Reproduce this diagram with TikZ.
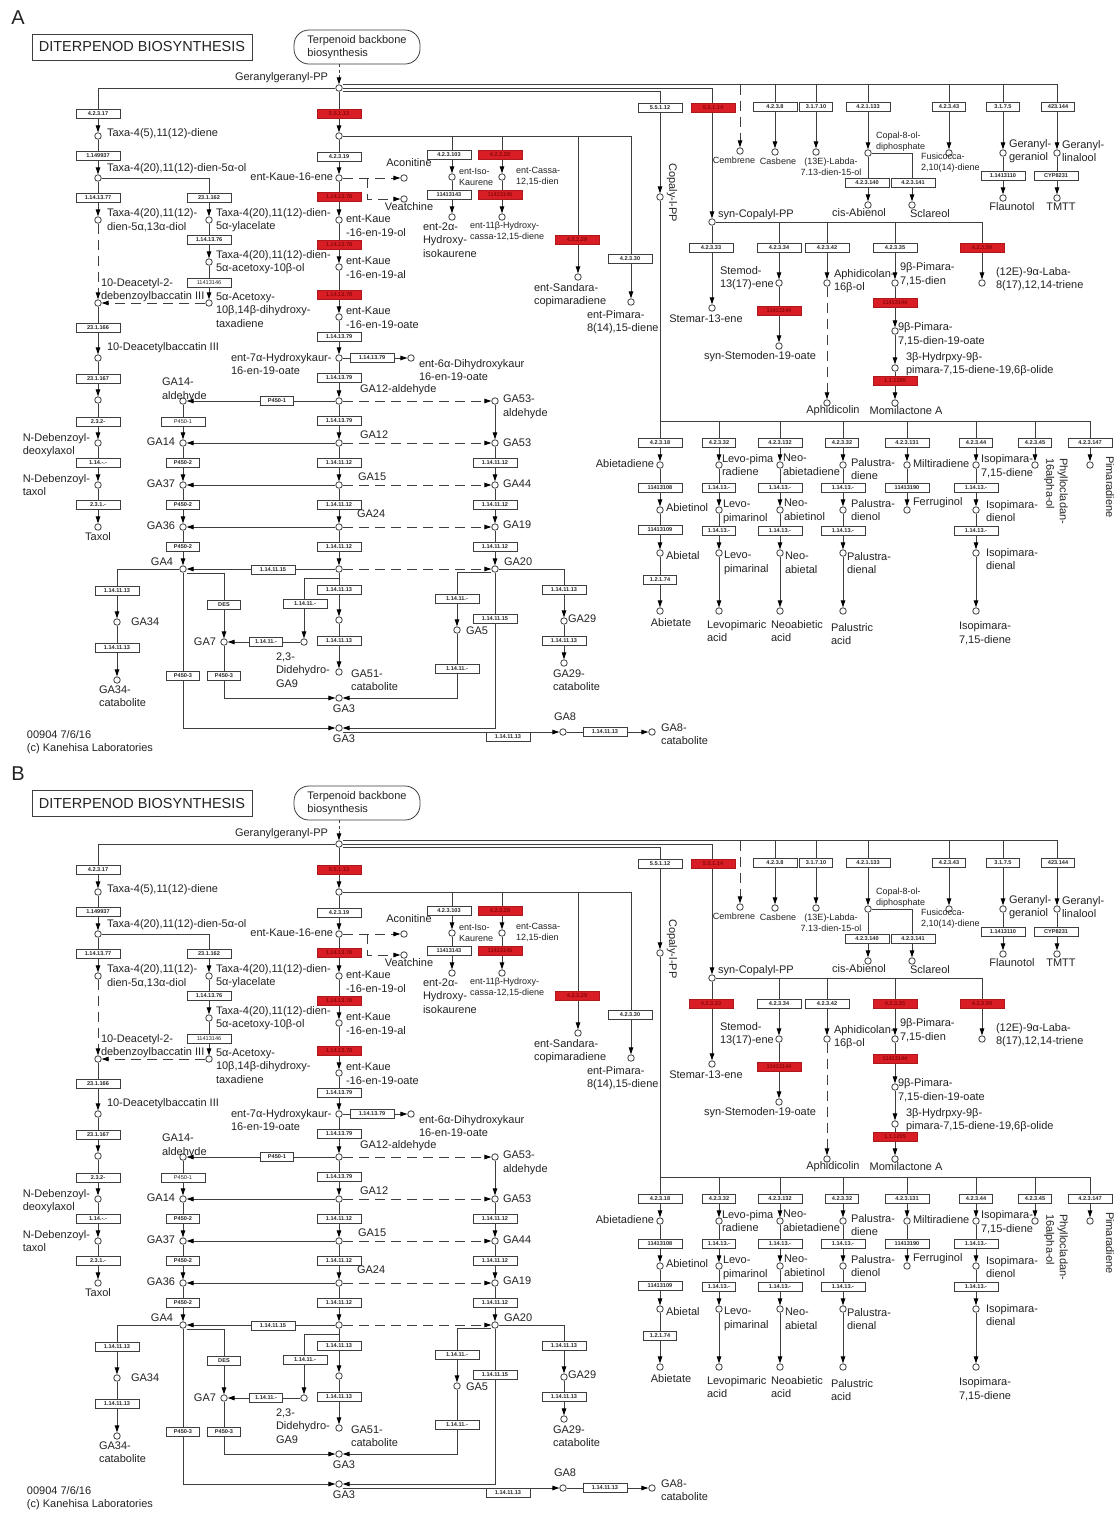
\documentclass[tikz,border=0pt]{standalone}
\usepackage{fontspec}
\setmainfont{Liberation Sans}
\usetikzlibrary{arrows.meta}
\definecolor{linec}{RGB}{62,62,62}
\definecolor{txtc}{RGB}{35,35,35}
\definecolor{keggred}{RGB}{216,30,36}
\definecolor{keggtxt}{RGB}{140,8,12}

% one map panel: #1 letter, #2 style of 4.2.3.33, #3 style of 4.2.3.35
\newcommand{\dtpanel}[3]{%
    % Letter, title and map link
    \node[font=\fontsize{20}{22}\selectfont, text=txtc] (tag) at (18,18) {#1};
    \node[draw, line width=0.8pt, minimum width=220pt, minimum height=26pt, inner sep=0pt, font=\fontsize{14.5}{16}\selectfont, text=txtc] (title) at (142,47) {DITERPENOD BIOSYNTHESIS};
    \node[lbl, draw, line width=0.8pt, rounded corners=15pt, minimum width=126pt, minimum height=34pt] (tbb) at (357,47) {Terpenoid backbone\\biosynthesis};

    % Compounds
    \node[cpd] (ggpp) at (339,88) {};
    \node[cpd] (ecp) at (339,136) {};
    \node[cpd] (ekn) at (339,178) {};
    \node[cpd] (acon) at (404,178) {};
    \node[cpd] (veat) at (404,199) {};
    \node[cpd] (ek1) at (339,220) {};
    \node[cpd] (ek2) at (339,267) {};
    \node[cpd] (ek3) at (339,317) {};
    \node[cpd] (ek4) at (339,358) {};
    \node[cpd] (ek5) at (411,358) {};
    \node[cpd] (ga12a) at (339,401) {};
    \node[cpd] (ga12) at (339,443) {};
    \node[cpd] (ga15) at (339,485) {};
    \node[cpd] (ga24) at (339,527) {};
    \node[cpd] (ga9) at (339,569) {};
    \node[cpd] (ga51) at (339,620) {};
    \node[cpd] (ga51c) at (339,672) {};
    \node[cpd] (ga14a) at (183,401) {};
    \node[cpd] (ga14) at (183,443) {};
    \node[cpd] (ga37) at (183,485) {};
    \node[cpd] (ga36) at (183,527) {};
    \node[cpd] (ga4) at (183,569) {};
    \node[cpd] (ga34) at (117,622) {};
    \node[cpd] (ga34c) at (117,680) {};
    \node[cpd] (ga7) at (224,642) {};
    \node[cpd] (ddga9) at (304,642) {};
    \node[cpd] (ga53a) at (495,401) {};
    \node[cpd] (ga53) at (495,443) {};
    \node[cpd] (ga44) at (495,485) {};
    \node[cpd] (ga19) at (495,527) {};
    \node[cpd] (ga20) at (495,569) {};
    \node[cpd] (ga5) at (457,630) {};
    \node[cpd] (ga29) at (564,621) {};
    \node[cpd] (ga29c) at (564,663) {};
    \node[cpd] (ga3a) at (339,698) {};
    \node[cpd] (ga3b) at (339,728) {};
    \node[cpd] (ga8) at (563,732) {};
    \node[cpd] (ga8c) at (652,732) {};
    \node[cpd] (txa) at (98,136) {};
    \node[cpd] (txb) at (98,178) {};
    \node[cpd] (txc) at (98,220) {};
    \node[cpd] (dab) at (98,303) {};
    \node[cpd] (dbc) at (98,358) {};
    \node[cpd] (txd) at (98,400) {};
    \node[cpd] (ndd) at (98,443) {};
    \node[cpd] (ndt) at (98,485) {};
    \node[cpd] (taxol) at (98,527) {};
    \node[cpd] (tye) at (209,220) {};
    \node[cpd] (tyf) at (209,262) {};
    \node[cpd] (tyg) at (209,303) {};
    \node[cpd] (eik) at (452,177) {};
    \node[cpd] (ehk) at (452,217) {};
    \node[cpd] (ecs) at (502,177) {};
    \node[cpd] (ehc) at (502,217) {};
    \node[cpd] (esc) at (578,277) {};
    \node[cpd] (epm) at (631,302) {};
    \node[cpd] (cpp) at (660,197) {};
    \node[cpd] (scp) at (712,222) {};
    \node[cpd] (stm) at (712,308) {};
    \node[cpd] (std) at (779,283) {};
    \node[cpd] (ssd) at (779,346) {};
    \node[cpd] (aph) at (827,283) {};
    \node[cpd] (aphc) at (827,403) {};
    \node[cpd] (pim) at (895,283) {};
    \node[cpd] (pimo) at (895,331) {};
    \node[cpd] (hpo) at (895,368) {};
    \node[cpd] (mom) at (895,403) {};
    \node[cpd] (lab) at (982,283) {};
    \node[cpd] (cemb) at (740,151) {};
    \node[cpd] (casb) at (775,152) {};
    \node[cpd] (labd) at (816,152) {};
    \node[cpd] (cop8) at (868,153) {};
    \node[cpd] (cisab) at (868,205) {};
    \node[cpd] (scl) at (912,205) {};
    \node[cpd] (fus) at (949,153) {};
    \node[cpd] (ggol) at (1003,153) {};
    \node[cpd] (glin) at (1057,153) {};
    \node[cpd] (flau) at (1003,198) {};
    \node[cpd] (tmtt) at (1057,198) {};
    \node[cpd] (abd) at (660,465) {};
    \node[cpd] (abo) at (660,510) {};
    \node[cpd] (abl) at (660,553) {};
    \node[cpd] (abt) at (660,611) {};
    \node[cpd] (lvd) at (719,465) {};
    \node[cpd] (lvo) at (719,510) {};
    \node[cpd] (lvl) at (719,553) {};
    \node[cpd] (lva) at (719,611) {};
    \node[cpd] (ned) at (780,465) {};
    \node[cpd] (neo) at (780,510) {};
    \node[cpd] (nel) at (780,553) {};
    \node[cpd] (nea) at (780,611) {};
    \node[cpd] (pad) at (843,465) {};
    \node[cpd] (pao) at (843,510) {};
    \node[cpd] (pal) at (843,553) {};
    \node[cpd] (paa) at (843,611) {};
    \node[cpd] (mil) at (907,465) {};
    \node[cpd] (fer) at (907,510) {};
    \node[cpd] (isd) at (976,465) {};
    \node[cpd] (iso) at (976,510) {};
    \node[cpd] (isl) at (976,553) {};
    \node[cpd] (isa) at (976,611) {};
    \node[cpd] (phy) at (1035,465) {};
    \node[cpd] (pmd) at (1090,465) {};
    \coordinate (trail) at (345,84.5);
    \coordinate (brail) at (660,421);
    \coordinate (vbr) at (367,178);

    % Connectors
    \draw[arr, dash pattern=on 3pt off 2.5pt] (tbb.south -| ggpp) -- (ggpp);
    \draw[arr] (ggpp) -| (txa);
    \draw[arr] (ggpp.east) ++(0,-3.5) -| (glin);
    \draw[arr] (ggpp.east) -| (scp);
    \draw[arr] (ggpp.east) ++(0,3.5) -| (cpp);
    \draw[arr, dsh] (trail -| cemb) -- (cemb);
    \draw[arr] (trail -| casb) -- (casb);
    \draw[arr] (trail -| labd) -- (labd);
    \draw[arr] (trail -| cop8) -- (cop8);
    \draw[arr] (trail -| fus) -- (fus);
    \draw[arr] (trail -| ggol) -- (ggol);
    \draw[arr] (cop8) -- (cisab);
    \draw[arr] (cop8) -| (scl);
    \draw[arr] (ggol) -- (flau);
    \draw[arr] (glin) -- (tmtt);
    % main column
    \draw[arr] (ggpp) -- (ecp);
    \draw[arr] (ecp) -- (ekn);
    \draw[arr] (ekn) -- (ek1);
    \draw[arr] (ek1) -- (ek2);
    \draw[arr] (ek2) -- (ek3);
    \draw[arr] (ek3) -- (ek4);
    \draw[arr] (ek4) -- (ga12a);
    \draw[arr] (ga12a) -- (ga12);
    \draw[arr] (ga12) -- (ga15);
    \draw[arr] (ga15) -- (ga24);
    \draw[arr] (ga24) -- (ga9);
    \draw[arr] (ga9) -- (ga51);
    \draw[arr] (ga51) -- (ga51c);
    \draw[arr, dsh] (ekn) -- (acon);
    \draw[arr, dsh] (vbr) |- (veat);
    \draw[arr] (ek4) -- (ek5);
    \draw[arr] (ecp) -| (epm);
    \draw[arr] (ecp -| eik) -- (eik);
    \draw[arr] (ecp -| ecs) -- (ecs);
    \draw[arr] (ecp -| esc) -- (esc);
    \draw[arr] (eik) -- (ehk);
    \draw[arr] (ecs) -- (ehc);
    % gibberellins
    \draw[arr] (ga12a) -- (ga14a);
    \draw[arr] (ga12) -- (ga14);
    \draw[arr] (ga15) -- (ga37);
    \draw[arr] (ga24) -- (ga36);
    \draw[arr] (ga9) -- (ga4);
    \draw[arr, dsh] (ga12a) -- (ga53a);
    \draw[arr, dsh] (ga12) -- (ga53);
    \draw[arr, dsh] (ga15) -- (ga44);
    \draw[arr, dsh] (ga24) -- (ga19);
    \draw[arr, dsh] (ga9) -- (ga20);
    \draw[arr] (ga14a) -- (ga14);
    \draw[arr] (ga14) -- (ga37);
    \draw[arr] (ga37) -- (ga36);
    \draw[arr] (ga36) -- (ga4);
    \draw[arr] (ga53a) -- (ga53);
    \draw[arr] (ga53) -- (ga44);
    \draw[arr] (ga44) -- (ga19);
    \draw[arr] (ga19) -- (ga20);
    \draw[arr] (ga4) -| (ga34);
    \draw[arr] (ga34) -- (ga34c);
    \draw[arr] (ga4.east) ++(0,4) -| (ga7);
    \draw[arr] (ga7) |- (ga3a);
    \draw[arr] (ga4) |- (ga3b);
    \draw[arr] (ga9.south) ++(0,6) -| (ddga9);
    \draw[arr] (ddga9) -- (ga7);
    \draw[arr] (ga20) -| (ga29);
    \draw[arr] (ga29) -- (ga29c);
    \draw[arr] (ga20.west) ++(0,3) -| (ga5);
    \draw[arr] (ga5) |- (ga3a);
    \draw[arr] (ga20) |- (ga3b);
    \draw[arr] (ga3b.east) ++(0,4) -- (ga8);
    \draw[arr] (ga8) -- (ga8c);
    % taxol
    \draw[arr] (txa) -- (txb);
    \draw[arr] (txb) -- (txc);
    \draw[arr, dsh] (txc) -- (dab);
    \draw[arr] (dab) -- (dbc);
    \draw[arr] (dbc) -- (txd);
    \draw[arr] (txd) -- (ndd);
    \draw[arr] (ndd) -- (ndt);
    \draw[arr] (ndt) -- (taxol);
    \draw[arr] (txb) -| (tye);
    \draw[arr] (tye) -- (tyf);
    \draw[arr] (tyf) -- (tyg);
    \draw[arr, dsh] (tyg) -- (dab);
    % syn-copalyl
    \draw[arr] (scp) -- (stm);
    \draw[arr] (scp) -| (lab);
    \draw[arr] (scp -| std) -- (std);
    \draw[arr] (scp -| aph) -- (aph);
    \draw[arr] (scp -| pim) -- (pim);
    \draw[arr] (std) -- (ssd);
    \draw[arr, dsh] (aph) -- (aphc);
    \draw[arr] (pim) -- (pimo);
    \draw[arr] (pimo) -- (hpo);
    \draw[arr] (hpo) -- (mom);
    % copalyl
    \draw[arr] (cpp) -- (abd);
    \draw[arr] (brail) -| (pmd);
    \draw[arr] (brail -| lvd) -- (lvd);
    \draw[arr] (brail -| ned) -- (ned);
    \draw[arr] (brail -| pad) -- (pad);
    \draw[arr] (brail -| mil) -- (mil);
    \draw[arr] (brail -| isd) -- (isd);
    \draw[arr] (brail -| phy) -- (phy);
    \draw[arr] (abd) -- (abo);
    \draw[arr] (abo) -- (abl);
    \draw[arr] (abl) -- (abt);
    \draw[arr] (lvd) -- (lvo);
    \draw[arr] (lvo) -- (lvl);
    \draw[arr] (lvl) -- (lva);
    \draw[arr] (ned) -- (neo);
    \draw[arr] (neo) -- (nel);
    \draw[arr] (nel) -- (nea);
    \draw[arr] (pad) -- (pao);
    \draw[arr] (pao) -- (pal);
    \draw[arr] (pal) -- (paa);
    \draw[arr] (mil) -- (fer);
    \draw[arr] (isd) -- (iso);
    \draw[arr] (iso) -- (isl);
    \draw[arr] (isl) -- (isa);

    % Enzyme boxes
    \node[ec] (e1) at (98,114) {4.2.3.17};
    \node[ec] (e2) at (98,156) {1.149937};
    \node[ec] (e3) at (98,198) {1.14.13.77};
    \node[ec] (e4) at (98,328) {23.1.166};
    \node[ec] (e5) at (98,379) {23.1.167};
    \node[ec] (e6) at (98,422) {2.3.2-};
    \node[ec] (e7) at (98,463) {1.14.-.-};
    \node[ec] (e8) at (98,505) {2.3.1.-};
    \node[ec] (e9) at (209,198) {23.1.162};
    \node[ec] (e10) at (209,240) {1.14.13.76};
    \node[ecn] (e11) at (209,283) {11413146};
    \node[ecred] (e12) at (339,114) {5.5.1.13};
    \node[ec] (e13) at (339,157) {4.2.3.19};
    \node[ecred] (e14) at (339,197) {1.14.13.78};
    \node[ecred] (e15) at (339,245) {1.14.13.78};
    \node[ecred] (e16) at (339,295) {1.14.13.78};
    \node[ec] (e17) at (339,337) {1.14.13.79};
    \node[ec] (e18) at (339,378) {1.14.13.79};
    \node[ec] (e19) at (339,421) {1.14.13.79};
    \node[ec] (e20) at (339,463) {1.14.11.12};
    \node[ec] (e21) at (339,505) {1.14.11.12};
    \node[ec] (e22) at (339,547) {1.14.11.12};
    \node[ec] (e23) at (339,590) {1.14.11.13};
    \node[ec] (e24) at (339,641) {1.14.11.13};
    \node[ec] (e25) at (372,358) {1.14.13.79};
    \node[ecs] (e26) at (277,401) {P450-1};
    \node[ecs, ecn] (e27) at (183,422) {P450-1};
    \node[ecs] (e28) at (183,463) {P450-2};
    \node[ecs] (e29) at (183,505) {P450-2};
    \node[ecs] (e30) at (183,547) {P450-2};
    \node[ec] (e31) at (273,570) {1.14.11.15};
    \node[ec] (e32) at (117,591) {1.14.11.13};
    \node[ec] (e33) at (117,648) {1.14.11.13};
    \node[ecs] (e34) at (224,605) {DES};
    \node[ecs] (e35) at (183,676) {P450-3};
    \node[ecs] (e36) at (224,676) {P450-3};
    \node[ec] (e37) at (305,604) {1.14.11.-};
    \node[ecs] (e38) at (266,642) {1.14.11.-};
    \node[ec] (e39) at (495,463) {1.14.11.12};
    \node[ec] (e40) at (495,505) {1.14.11.12};
    \node[ec] (e41) at (495,547) {1.14.11.12};
    \node[ec] (e42) at (564,590) {1.14.11.13};
    \node[ec] (e43) at (564,641) {1.14.11.13};
    \node[ec] (e44) at (457,599) {1.14.11.-};
    \node[ec] (e45) at (457,669) {1.14.11.-};
    \node[ec] (e46) at (495,619) {1.14.11.15};
    \node[ec] (e47) at (508,737) {1.14.11.13};
    \node[ec] (e48) at (605,732) {1.14.11.13};
    \node[ec] (e49) at (449,155) {4.2.3.103};
    \node[ecred] (e50) at (500,155) {4.2.3.28};
    \node[ec] (e51) at (449,195) {11413143};
    \node[ecred] (e52) at (500,195) {11413145};
    \node[ecred] (e53) at (577,240) {4.2.3.29};
    \node[ec] (e54) at (630,259) {4.2.3.30};
    \node[ec] (e55) at (660,108) {5.5.1.12};
    \node[ecred] (e56) at (713,108) {5.5.1.14};
    \node[#2] (e57) at (711,248) {4.2.3.33};
    \node[ec] (e58) at (779,248) {4.2.3.34};
    \node[ec] (e59) at (827,248) {4.2.3.42};
    \node[#3] (e60) at (895,248) {4.2.3.35};
    \node[ecred] (e61) at (982,248) {4.2.3.99};
    \node[ecred] (e62) at (779,311) {11413144};
    \node[ecred] (e63) at (895,303) {11413144};
    \node[ecred] (e64) at (895,381) {1.1.1295};
    \node[ec] (e65) at (775,107) {4.2.3.8};
    \node[ecs] (e66) at (816,107) {3.1.7.10};
    \node[ec] (e67) at (868,107) {4.2.1.133};
    \node[ecs] (e68) at (949,107) {4.2.3.43};
    \node[ecs] (e69) at (1003,107) {3.1.7.5};
    \node[ecs] (e70) at (1058,107) {423.144};
    \node[ec] (e71) at (867,183) {4.2.3.140};
    \node[ec] (e72) at (913,183) {4.2.3.141};
    \node[ec] (e73) at (1003,176) {1.1413110};
    \node[ec] (e74) at (1056,176) {CYP8231};
    \node[ec] (e75) at (660,443) {4.2.3.18};
    \node[ecs] (e76) at (719,443) {4.2.3.32};
    \node[ec] (e77) at (780,443) {4.2.3.132};
    \node[ecs] (e78) at (842,443) {4.2.3.32};
    \node[ec] (e79) at (907,443) {4.2.3.131};
    \node[ecs] (e80) at (976,443) {4.2.3.44};
    \node[ecs] (e81) at (1035,443) {4.2.3.45};
    \node[ec] (e82) at (1090,443) {4.2.3.147};
    \node[ec] (e83) at (660,488) {11413108};
    \node[ec] (e84) at (660,530) {11413109};
    \node[ecs] (e85) at (660,580) {1.2.1.74};
    \node[ecs] (e86) at (719,488) {1.14.13.-};
    \node[ecs] (e87) at (719,531) {1.14.13.-};
    \node[ec] (e88) at (780,488) {1.14.13.-};
    \node[ec] (e89) at (780,531) {1.14.13.-};
    \node[ec] (e90) at (843,488) {1.14.13.-};
    \node[ec] (e91) at (843,531) {1.14.13.-};
    \node[ec] (e92) at (907,488) {11413190};
    \node[ec] (e93) at (976,488) {1.14.13.-};
    \node[ec] (e94) at (976,531) {1.14.13.-};

    % Compound names
    \node[lbl, anchor=east] (l-ggpp) at (329,78) {Geranylgeranyl-PP};
    \node[lbl, anchor=west] (l-txa) at (106,134) {Taxa-4(5),11(12)-diene};
    \node[lbl, anchor=west] (l-txb) at (106,169) {Taxa-4(20),11(12)-dien-5α-ol};
    \node[lbl, anchor=west] (l-txc) at (106,220) {Taxa-4(20),11(12)-\\dien-5α,13α-diol};
    \node[lbl, anchor=west] (l-dab) at (100,290) {10-Deacetyl-2-\\debenzoylbaccatin III};
    \node[lbl, anchor=west] (l-dbc) at (106,348) {10-Deacetylbaccatin III};
    \node[lbl, anchor=east] (l-ndd) at (91,445) {N-Debenzoyl-\\deoxylaxol};
    \node[lbl, anchor=east] (l-ndt) at (91,485) {N-Debenzoyl-\\taxol};
    \node[lbl, anchor=north] (l-taxol) at (98,532) {Taxol};
    \node[lbl, anchor=west] (l-tye) at (215,220) {Taxa-4(20),11(12)-dien-\\5α-ylacelate};
    \node[lbl, anchor=west] (l-tyf) at (215,262) {Taxa-4(20),11(12)-dien-\\5α-acetoxy-10β-ol};
    \node[lbl, anchor=west] (l-tyg) at (215,310) {5α-Acetoxy-\\10β,14β-dihydroxy-\\taxadiene};
    \node[lbl, anchor=east] (l-ekn) at (334,177) {ent-Kaue-16-ene};
    \node[lbl] (l-acon) at (409,163) {Aconitine};
    \node[lbl] (l-veat) at (409,207) {Veatchine};
    \node[lbl, anchor=west] (l-ek1) at (345,226) {ent-Kaue\\-16-en-19-ol};
    \node[lbl, anchor=west] (l-ek2) at (345,268) {ent-Kaue\\-16-en-19-al};
    \node[lbl, anchor=west] (l-ek3) at (345,318) {ent-Kaue\\-16-en-19-oate};
    \node[lbl, anchor=west] (l-ek4) at (230,364) {ent-7α-Hydroxykaur-\\16-en-19-oate};
    \node[lbl, anchor=west] (l-ek5) at (418,370) {ent-6α-Dihydroxykaur\\16-en-19-oate};
    \node[lbl, anchor=west] (l-ga12a) at (359,390) {GA12-aldehyde};
    \node[lbl, anchor=west] (l-ga12) at (359,435) {GA12};
    \node[lbl, anchor=west] (l-ga15) at (357,477) {GA15};
    \node[lbl, anchor=west] (l-ga24) at (356,514) {GA24};
    \node[lbl, anchor=west] (l-ga51c) at (350,680) {GA51-\\catabolite};
    \node[lbl, anchor=west] (l-ga14a) at (161,390) {GA14-\\aldehyde};
    \node[lbl, anchor=east] (l-ga14) at (176,442) {GA14};
    \node[lbl, anchor=east] (l-ga37) at (176,484) {GA37};
    \node[lbl, anchor=east] (l-ga36) at (176,526) {GA36};
    \node[lbl, anchor=east] (l-ga4) at (174,562) {GA4};
    \node[lbl, anchor=west] (l-ga34) at (130,622) {GA34};
    \node[lbl, anchor=west] (l-ga34c) at (98,696) {GA34-\\catabolite};
    \node[lbl, anchor=east] (l-ga7) at (217,642) {GA7};
    \node[lbl, anchor=west] (l-ddga9) at (275,670) {2,3-\\Didehydro-\\GA9};
    \node[lbl, anchor=west] (l-ga53a) at (502,407) {GA53-\\aldehyde};
    \node[lbl, anchor=west] (l-ga53) at (502,443) {GA53};
    \node[lbl, anchor=west] (l-ga44) at (502,484) {GA44};
    \node[lbl, anchor=west] (l-ga19) at (502,525) {GA19};
    \node[lbl, anchor=west] (l-ga20) at (503,562) {GA20};
    \node[lbl, anchor=west] (l-ga5) at (465,631) {GA5};
    \node[lbl, anchor=west] (l-ga29) at (567,619) {GA29};
    \node[lbl, anchor=west] (l-ga29c) at (552,680) {GA29-\\catabolite};
    \node[lbl, anchor=north] (l-ga3a) at (344,704) {GA3};
    \node[lbl, anchor=north] (l-ga3b) at (344,734) {GA3};
    \node[lbl] (l-ga8) at (565,717) {GA8};
    \node[lbl, anchor=west] (l-ga8c) at (660,734) {GA8-\\catabolite};
    \node[sml, anchor=west] (l-eik) at (458,177) {ent-Iso-\\Kaurene};
    \node[lbl, anchor=west] (l-ehk) at (422,240) {ent-2α-\\Hydroxy-\\isokaurene};
    \node[sml, anchor=west] (l-ecs) at (515,176) {ent-Cassa-\\12,15-dien};
    \node[sml, anchor=west] (l-ehc) at (469,231) {ent-11β-Hydroxy-\\cassa-12,15-diene};
    \node[lbl, anchor=west] (l-esc) at (533,295) {ent-Sandara-\\copimaradiene};
    \node[lbl, anchor=west] (l-epm) at (586,322) {ent-Pimara-\\8(14),15-diene};
    \node[lbl, rotate=-90] (l-cpp) at (672,193) {Copaly-l-PP};
    \node[lbl, anchor=west] (l-scp) at (717,215) {syn-Copalyl-PP};
    \node[lbl] (l-stm) at (706,319) {Stemar-13-ene};
    \node[lbl, anchor=west] (l-std) at (719,278) {Stemod-\\13(17)-ene};
    \node[lbl] (l-ssd) at (760,357) {syn-Stemoden-19-oate};
    \node[lbl, anchor=west] (l-aph) at (833,281) {Aphidicolan-\\16β-ol};
    \node[lbl] (l-aphc) at (833,411) {Aphidicolin};
    \node[lbl, anchor=west] (l-pim) at (899,274) {9β-Pimara-\\7,15-dien};
    \node[lbl, anchor=west] (l-pimo) at (897,334) {9β-Pimara-\\7,15-dien-19-oate};
    \node[lbl, anchor=west] (l-hpo) at (905,364) {3β-Hydrpxy-9β-\\pimara-7,15-diene-19,6β-olide};
    \node[lbl] (l-mom) at (906,411) {Momilactone A};
    \node[lbl, anchor=west] (l-lab) at (995,279) {(12E)-9α-Laba-\\8(17),12,14-triene};
    \node[sml] (l-cemb) at (734,160) {Cembrene};
    \node[sml] (l-casb) at (778,161) {Casbene};
    \node[sml, align=center] (l-labd) at (831,167) {(13E)-Labda-\\7.13-dien-15-ol};
    \node[sml, anchor=west] (l-cop8) at (875,142) {Copal-8-ol-\\diphosphate};
    \node[lbl] (l-cisab) at (859,213) {cis-Abienol};
    \node[lbl] (l-scl) at (930,214) {Sclareol};
    \node[sml, anchor=west] (l-fus) at (920,163) {Fusicocca-\\2,10(14)-diene};
    \node[lbl, anchor=west] (l-ggol) at (1008,151) {Geranyl-\\geraniol};
    \node[lbl, anchor=west] (l-glin) at (1061,151) {Geranyl-\\linalool};
    \node[lbl] (l-flau) at (1012,207) {Flaunotol};
    \node[lbl] (l-tmtt) at (1061,207) {TMTT};
    \node[lbl, anchor=east] (l-abd) at (655,464) {Abietadiene};
    \node[lbl, anchor=west] (l-abo) at (665,508) {Abietinol};
    \node[lbl, anchor=west] (l-abl) at (665,556) {Abietal};
    \node[lbl] (l-abt) at (671,623) {Abietate};
    \node[lbl, anchor=west] (l-lvd) at (721,465) {Levo-pima\\radiene};
    \node[lbl, anchor=west] (l-lvo) at (722,512) {Levo-\\pimarinol};
    \node[lbl, anchor=west] (l-lvl) at (723,563) {Levo-\\pimarinal};
    \node[lbl, anchor=west] (l-lva) at (706,631) {Levopimaric\\acid};
    \node[lbl, anchor=west] (l-ned) at (782,465) {Neo-\\abietadiene};
    \node[lbl, anchor=west] (l-neo) at (783,510) {Neo-\\abietinol};
    \node[lbl, anchor=west] (l-nel) at (784,563) {Neo-\\abietal};
    \node[lbl, anchor=west] (l-nea) at (770,631) {Neoabietic\\acid};
    \node[lbl, anchor=west] (l-pad) at (850,469) {Palustra-\\diene};
    \node[lbl, anchor=west] (l-pao) at (850,510) {Palustra-\\dienol};
    \node[lbl, anchor=west] (l-pal) at (846,563) {Palustra-\\dienal};
    \node[lbl, anchor=west] (l-paa) at (830,634) {Palustric\\acid};
    \node[lbl, anchor=west] (l-mil) at (912,464) {Miltiradiene};
    \node[lbl, anchor=west] (l-fer) at (912,503) {Ferruginol};
    \node[lbl, anchor=west] (l-isd) at (980,466) {Isopimara-\\7,15-diene};
    \node[lbl, anchor=west] (l-iso) at (985,511) {Isopimara-\\dienol};
    \node[lbl, anchor=west] (l-isl) at (985,559) {Isopimara-\\dienal};
    \node[lbl, anchor=west] (l-isa) at (958,633) {Isopimara-\\7,15-diene};
    \node[lbl, rotate=-90, anchor=west] (l-phy) at (1056,457) {Phyllocladan-\\16alpha-ol};
    \node[lbl, rotate=-90, anchor=west] (l-pmd) at (1110,455) {Pimaradiene};

    % Map id
    \node[lbl, anchor=west, font=\fontsize{11}{13}\selectfont] (mapid) at (26,742) {00904 7/6/16\\(c) Kanehisa Laboratories};
}

\begin{document}
\begin{tikzpicture}[x=1pt, y=-1pt, line width=1pt, color=linec,
    cpd/.style={circle, draw, fill=white, line width=0.8pt, minimum size=6.5pt, inner sep=0pt},
    ec/.style={rectangle, draw, fill=white, line width=0.8pt, minimum width=44pt, minimum height=9.5pt, inner sep=0pt, font=\fontsize{5.6}{6}\selectfont\bfseries, text=black!85},
    ecs/.style={ec, minimum width=33pt},
    ecn/.style={ec, font=\fontsize{5.6}{6}\selectfont},
    ecred/.style={ec, fill=keggred, draw=keggred!80!black, text=keggtxt},
    lbl/.style={font=\fontsize{11}{13.5}\selectfont, text=txtc, inner sep=0.5pt, align=left},
    sml/.style={lbl, font=\fontsize{9}{11}\selectfont},
    arr/.style={-{Triangle[width=4.5pt,length=7pt,color=black]}},
    dsh/.style={dash pattern=on 10pt off 6pt}
]
    \fill[white] (0,0) rectangle (1118,1513);
    \useasboundingbox (0,0) rectangle (1118,1513);

    % Panel A
    \begin{scope}
        \dtpanel{A}{ec}{ec}
    \end{scope}

    % Panel B
    \begin{scope}[yshift=-756pt]
        \dtpanel{B}{ecred}{ecred}
    \end{scope}
\end{tikzpicture}
\end{document}
